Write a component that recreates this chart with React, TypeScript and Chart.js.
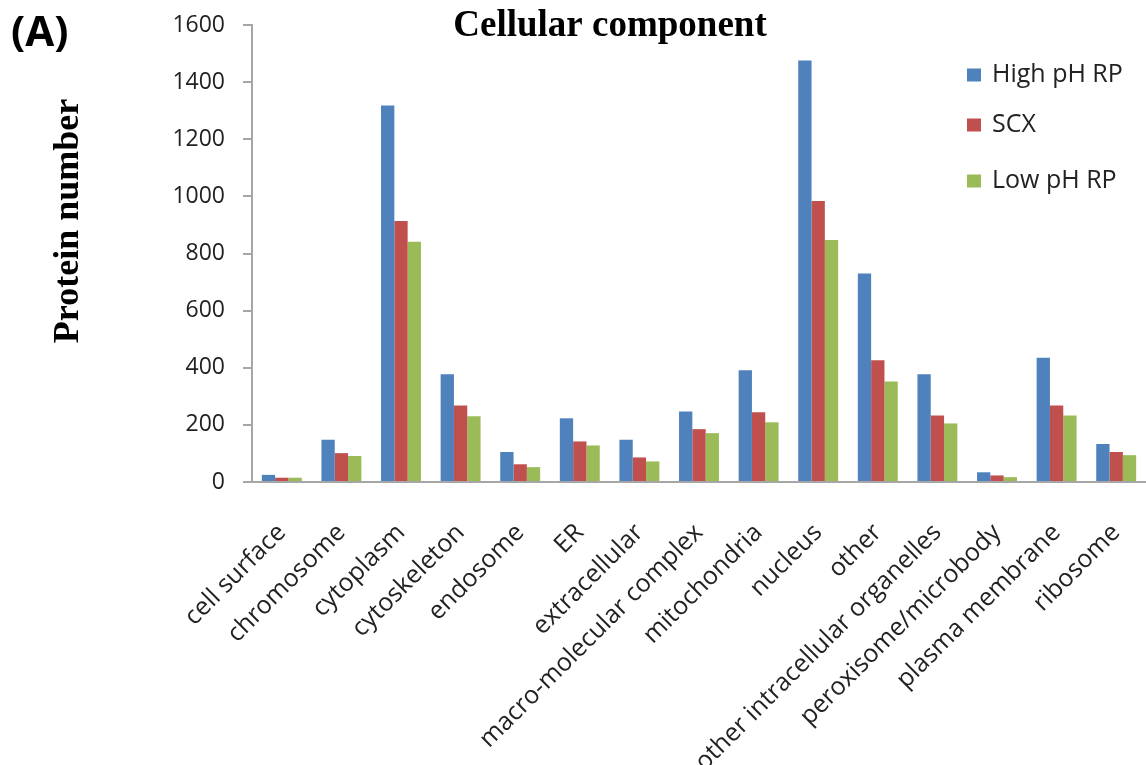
import React, { useEffect, useRef } from "react";
import { Chart, registerables } from "chart.js";

Chart.register(...registerables);

const categories = [
  "cell surface",
  "chromosome",
  "cytoplasm",
  "cytoskeleton",
  "endosome",
  "ER",
  "extracellular",
  "macro-molecular complex",
  "mitochondria",
  "nucleus",
  "other",
  "other intracellular organelles",
  "peroxisome/microbody",
  "plasma membrane",
  "ribosome",
];

const seriesNames = ["High pH RP", "SCX", "Low pH RP"];
const seriesColors = ["#4F81BD", "#C0504D", "#9BBB59"];

const highPhRp = [25, 148, 1318, 377, 105, 223, 148, 247, 391, 1476, 730, 377, 34, 435, 133];
const scx = [15, 101, 914, 268, 62, 142, 86, 185, 244, 984, 426, 233, 23, 268, 105];
const lowPhRp = [15, 91, 841, 230, 52, 128, 72, 171, 209, 847, 352, 205, 17, 233, 94];

const yMin = 0;
const yMax = 1600;
const yStep = 200;

const chartTitle = "Cellular component";
const yTitle = "Protein number";
const panelLabel = "(A)";

const TICK_FONT = '"Open Sans", "Liberation Sans", sans-serif';
const SERIF = '"Liberation Serif", "Times New Roman", serif';

const overlayPlugin = {
  id: "overlay",
  afterDraw(chart: any) {
    const ctx = chart.ctx as CanvasRenderingContext2D;
    ctx.save();
    ctx.fillStyle = "#000";
    ctx.textBaseline = "alphabetic";
    ctx.textAlign = "center";
    ctx.font = `bold 37px ${SERIF}`;
    ctx.fillText(chartTitle, 610, 36);

    ctx.textAlign = "left";
    ctx.font = `bold 42px ${TICK_FONT}`;
    ctx.fillText(panelLabel, 11, 46);

    ctx.save();
    ctx.translate(78, 221);
    ctx.rotate(-Math.PI / 2);
    ctx.textAlign = "center";
    ctx.font = `bold 36px ${SERIF}`;
    ctx.fillText(yTitle, 0, 0);
    ctx.restore();

    // legend
    const legendY = [75, 125, 181];
    chart.data.datasets.forEach((ds: any, i: number) => {
      const cy = legendY[i];
      ctx.fillStyle = ds.backgroundColor;
      ctx.fillRect(967, cy - 6.5, 14, 13);
      ctx.fillStyle = "#222";
      ctx.font = `25px ${TICK_FONT}`;
      ctx.textAlign = "left";
      ctx.textBaseline = "middle";
      ctx.fillText(ds.label, 992, cy);
    });
    ctx.restore();
  },
};

export default function App() {
  const canvasRef = useRef<HTMLCanvasElement | null>(null);

  useEffect(() => {
    if (!canvasRef.current) return;
    const datasets = [highPhRp, scx, lowPhRp].map((data, i) => ({
      label: seriesNames[i],
      data,
      backgroundColor: seriesColors[i],
      borderWidth: 0,
      categoryPercentage: 0.67,
      barPercentage: 1.0,
    }));
    const chart = new Chart(canvasRef.current, {
      type: "bar",
      data: { labels: categories, datasets },
      options: {
        animation: false,
        responsive: false,
        maintainAspectRatio: false,
        layout: { padding: { top: 25, right: 0, left: 0, bottom: 0 } },
        plugins: {
          legend: { display: false },
          title: { display: false },
          tooltip: { enabled: false },
        },
        scales: {
          x: {
            grid: { display: false },
            border: { display: true, color: "#A6A6A6", width: 2 },
            ticks: {
              autoSkip: false,
              maxRotation: 45,
              minRotation: 45,
              color: "#222",
              font: { family: TICK_FONT, size: 25 },
              padding: 28,
            },
            afterFit(scale: any) {
              scale.height = 765 - 482;
              scale.paddingLeft = 0;
              scale.paddingRight = 0;
            },
          },
          y: {
            min: yMin,
            max: yMax,
            ticks: {
              stepSize: yStep,
              color: "#222",
              font: { family: TICK_FONT, size: 23 },
              padding: 18,
              callback: (v: any) => String(v),
            },
            grid: {
              display: true,
              drawOnChartArea: false,
              drawTicks: true,
              tickLength: 9,
              color: "#A6A6A6",
              lineWidth: 2,
            },
            border: { display: true, color: "#A6A6A6", width: 2 },
            afterFit(scale: any) {
              scale.width = 252;
              scale.paddingTop = 0;
              scale.paddingBottom = 0;
            },
          },
        },
      },
      plugins: [overlayPlugin],
    });
    return () => chart.destroy();
  }, []);

  return (
    <div style={{ position: "fixed", left: 0, top: 0, width: 1146, height: 765, background: "#fff" }}>
      <canvas ref={canvasRef} width={1146} height={765} style={{ display: "block" }} />
    </div>
  );
}
